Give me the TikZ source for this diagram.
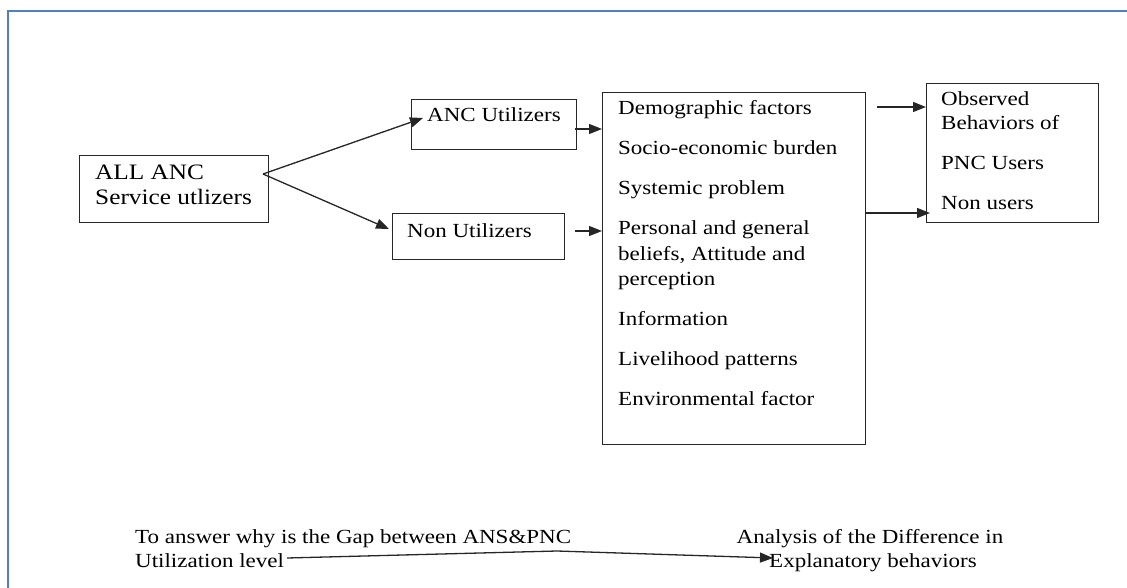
\documentclass[tikz,border=0pt]{standalone}
\usepackage{fontspec}
\setmainfont[FakeStretch=1.15]{Liberation Serif}
\usepackage{tikz}
\usetikzlibrary{arrows.meta}
\definecolor{framebl}{RGB}{79,129,189}
\tikzstyle{box}=[draw=black!85, line width=1.3pt, anchor=north west, inner sep=0pt]
\tikzstyle{txt}=[inner sep=0pt, anchor=base west, font=\fontsize{20}{24}\selectfont]
\tikzstyle{arr}=[line width=1.3pt, black!85, -{Triangle[length=13pt,width=10pt]}]

\begin{document}
\begin{tikzpicture}[x=1pt,y=-1pt]
\useasboundingbox (0,0) rectangle (1127,588);
\draw[framebl, line width=2pt] (8,588) -- (8,11) -- (1127,11);

% boxes
\node[box, minimum width=189pt, minimum height=67pt] (all) at (79,155) {};
\node[box, minimum width=165pt, minimum height=50pt] (anc) at (411,99) {};
\node[box, minimum width=172pt, minimum height=46pt] (non) at (392,213) {};
\node[box, minimum width=263pt, minimum height=352pt] (fac) at (602,92) {};
\node[box, minimum width=172pt, minimum height=139pt] (obs) at (926,83) {};

% texts
\node[txt, font=\fontsize{22}{26}\selectfont] (all1) at (95,180) {ALL ANC};
\node[txt, font=\fontsize{22}{26}\selectfont] (all2) at (95,205) {Service utlizers};
\node[txt] (anc1) at (427,122) {ANC Utilizers};
\node[txt] (non1) at (407,237) {Non Utilizers};
\foreach \y/\t [count=\i] in {115/Demographic factors, 155/Socio-economic burden,
    195/Systemic problem, 235/Personal and general, 260/{beliefs, Attitude and},
    285/perception, 325/Information, 365/Livelihood patterns, 405/Environmental factor} {
  \node[txt] (fac\i) at (618,\y) {\t};
}
\foreach \y/\t [count=\i] in {106/Observed, 130/Behaviors of, 170/PNC Users, 210/Non users} {
  \node[txt] (obs\i) at (941,\y) {\t};
}
\node[txt] (gap1) at (135,543) {To answer why is the Gap between ANS\&PNC};
\node[txt] (gap2) at (135,567) {Utilization level};
\node[txt, anchor=base] (diff1) at (870,543) {Analysis of the Difference in};
\node[txt, anchor=base] (diff2) at (873,567) {Explanatory behaviors};

% connectors
\coordinate (split) at (263,174);
\coordinate (ancin) at (423,118);
\coordinate (nonin) at (389,229);
\draw[arr] (split) -- (ancin);
\draw[arr] (split) -- (nonin);
\coordinate (a1) at (575,129);
\coordinate (n1) at (575,231);
\draw[arr] (a1) -- (a1 -| fac.west);
\draw[arr] (n1) -- (n1 -| fac.west);
\coordinate (f1) at (877,107);
\coordinate (f2) at (865,213);
\coordinate (obsin) at (930,213);
\draw[arr] (f1) -- (f1 -| obs.west);
\draw[arr] (f2) -- (obsin);
\coordinate (g0) at (287,558);
\coordinate (gk) at (557,551);
\coordinate (d0) at (773,558);
\draw[arr] (g0) -- (gk) -- (d0);
\end{tikzpicture}
\end{document}
